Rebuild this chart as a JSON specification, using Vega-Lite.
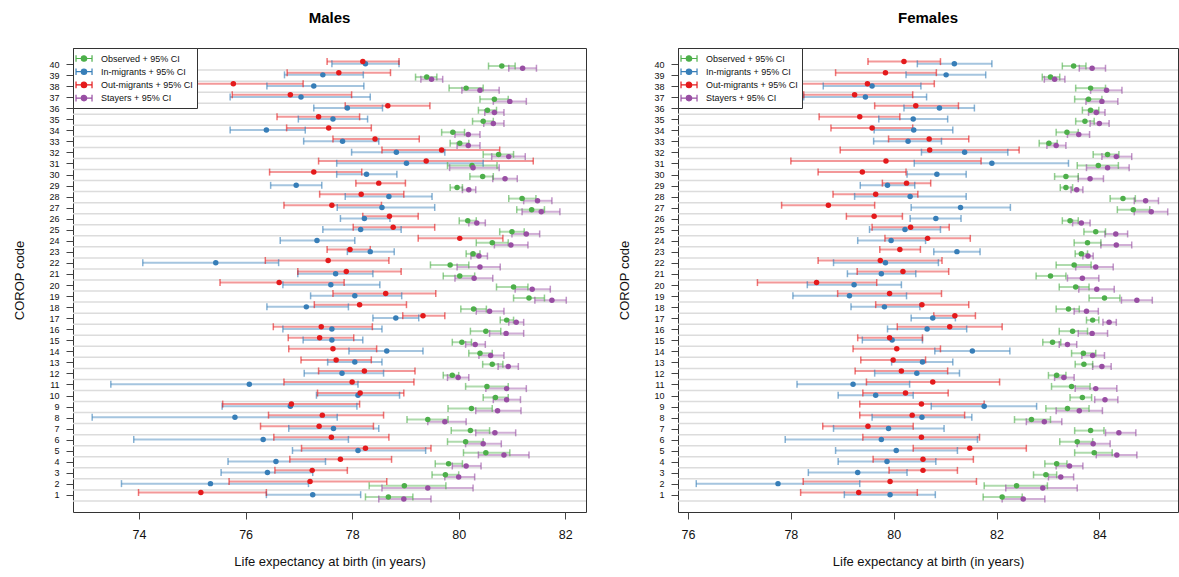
{
"$schema": "https://vega.github.io/schema/vega-lite/v6.json",
"padding": {"left": 12, "top": 10, "right": 0, "bottom": 0},
"bounds": "flush",
"spacing": 92,
"config": {
  "font": "Liberation Sans",
  "view": {"stroke": "#333", "strokeWidth": 1},
  "axis": {"grid": false, "domain": false, "tickColor": "#444", "tickSize": 7, "labelColor": "#111", "titleColor": "#111", "titleFontWeight": "normal", "labelFont": "Liberation Sans", "titleFont": "Liberation Sans"},
  "title": {"font": "Liberation Sans", "fontSize": 15, "fontWeight": "bold", "offset": 22, "color": "#000"}
},
"resolve": {"scale": {"color": "independent", "yOffset": "independent", "x": "independent", "y": "independent"}, "legend": {"color": "independent"}},
"datasets": {"le": [
{"sex":"Males","corop":40,"group":"Observed","lo":80.56,"est":80.81,"hi":81.06},
{"sex":"Males","corop":40,"group":"In-migrants","lo":77.62,"est":78.25,"hi":78.88},
{"sex":"Males","corop":40,"group":"Out-migrants","lo":77.53,"est":78.20,"hi":78.88},
{"sex":"Males","corop":40,"group":"Stayers","lo":80.94,"est":81.20,"hi":81.46},
{"sex":"Males","corop":39,"group":"Observed","lo":79.19,"est":79.40,"hi":79.59},
{"sex":"Males","corop":39,"group":"In-migrants","lo":76.73,"est":77.45,"hi":78.21},
{"sex":"Males","corop":39,"group":"Out-migrants","lo":76.78,"est":77.75,"hi":78.72},
{"sex":"Males","corop":39,"group":"Stayers","lo":79.29,"est":79.49,"hi":79.70},
{"sex":"Males","corop":38,"group":"Observed","lo":79.82,"est":80.14,"hi":80.46},
{"sex":"Males","corop":38,"group":"In-migrants","lo":76.40,"est":77.28,"hi":78.22},
{"sex":"Males","corop":38,"group":"Out-migrants","lo":74.46,"est":75.77,"hi":77.08},
{"sex":"Males","corop":38,"group":"Stayers","lo":80.06,"est":80.40,"hi":80.76},
{"sex":"Males","corop":37,"group":"Observed","lo":80.40,"est":80.67,"hi":80.93},
{"sex":"Males","corop":37,"group":"In-migrants","lo":75.71,"est":77.04,"hi":78.34},
{"sex":"Males","corop":37,"group":"Out-migrants","lo":75.75,"est":76.84,"hi":77.99},
{"sex":"Males","corop":37,"group":"Stayers","lo":80.65,"est":80.96,"hi":81.27},
{"sex":"Males","corop":36,"group":"Observed","lo":80.37,"est":80.54,"hi":80.71},
{"sex":"Males","corop":36,"group":"In-migrants","lo":77.28,"est":77.91,"hi":78.57},
{"sex":"Males","corop":36,"group":"Out-migrants","lo":77.87,"est":78.67,"hi":79.46},
{"sex":"Males","corop":36,"group":"Stayers","lo":80.49,"est":80.67,"hi":80.85},
{"sex":"Males","corop":35,"group":"Observed","lo":80.26,"est":80.46,"hi":80.65},
{"sex":"Males","corop":35,"group":"In-migrants","lo":76.99,"est":77.64,"hi":78.29},
{"sex":"Males","corop":35,"group":"Out-migrants","lo":76.59,"est":77.37,"hi":78.14},
{"sex":"Males","corop":35,"group":"Stayers","lo":80.47,"est":80.65,"hi":80.85},
{"sex":"Males","corop":34,"group":"Observed","lo":79.68,"est":79.89,"hi":80.11},
{"sex":"Males","corop":34,"group":"In-migrants","lo":75.71,"est":76.39,"hi":77.12},
{"sex":"Males","corop":34,"group":"Out-migrants","lo":76.77,"est":77.56,"hi":78.36},
{"sex":"Males","corop":34,"group":"Stayers","lo":79.93,"est":80.18,"hi":80.40},
{"sex":"Males","corop":33,"group":"Observed","lo":79.84,"est":80.02,"hi":80.19},
{"sex":"Males","corop":33,"group":"In-migrants","lo":77.09,"est":77.82,"hi":78.50},
{"sex":"Males","corop":33,"group":"Out-migrants","lo":77.64,"est":78.43,"hi":79.26},
{"sex":"Males","corop":33,"group":"Stayers","lo":79.97,"est":80.18,"hi":80.40},
{"sex":"Males","corop":32,"group":"Observed","lo":80.46,"est":80.75,"hi":81.03},
{"sex":"Males","corop":32,"group":"In-migrants","lo":77.99,"est":78.83,"hi":79.74},
{"sex":"Males","corop":32,"group":"Out-migrants","lo":78.56,"est":79.68,"hi":80.77},
{"sex":"Males","corop":32,"group":"Stayers","lo":80.62,"est":80.94,"hi":81.25},
{"sex":"Males","corop":31,"group":"Observed","lo":79.79,"est":80.25,"hi":80.72},
{"sex":"Males","corop":31,"group":"In-migrants","lo":77.71,"est":79.02,"hi":80.46},
{"sex":"Males","corop":31,"group":"Out-migrants","lo":77.37,"est":79.39,"hi":81.40},
{"sex":"Males","corop":31,"group":"Stayers","lo":79.83,"est":80.27,"hi":80.76},
{"sex":"Males","corop":30,"group":"Observed","lo":80.21,"est":80.45,"hi":80.65},
{"sex":"Males","corop":30,"group":"In-migrants","lo":77.71,"est":78.27,"hi":78.84},
{"sex":"Males","corop":30,"group":"Out-migrants","lo":76.45,"est":77.28,"hi":78.18},
{"sex":"Males","corop":30,"group":"Stayers","lo":80.64,"est":80.87,"hi":81.10},
{"sex":"Males","corop":29,"group":"Observed","lo":79.84,"est":79.97,"hi":80.07},
{"sex":"Males","corop":29,"group":"In-migrants","lo":76.47,"est":76.95,"hi":77.43},
{"sex":"Males","corop":29,"group":"Out-migrants","lo":78.07,"est":78.50,"hi":79.00},
{"sex":"Males","corop":29,"group":"Stayers","lo":80.07,"est":80.19,"hi":80.32},
{"sex":"Males","corop":28,"group":"Observed","lo":80.94,"est":81.19,"hi":81.45},
{"sex":"Males","corop":28,"group":"In-migrants","lo":77.87,"est":78.69,"hi":79.50},
{"sex":"Males","corop":28,"group":"Out-migrants","lo":77.39,"est":78.17,"hi":78.97},
{"sex":"Males","corop":28,"group":"Stayers","lo":81.22,"est":81.48,"hi":81.75},
{"sex":"Males","corop":27,"group":"Observed","lo":81.09,"est":81.37,"hi":81.61},
{"sex":"Males","corop":27,"group":"In-migrants","lo":77.72,"est":78.56,"hi":79.55},
{"sex":"Males","corop":27,"group":"Out-migrants","lo":76.72,"est":77.62,"hi":78.55},
{"sex":"Males","corop":27,"group":"Stayers","lo":81.19,"est":81.55,"hi":81.90},
{"sex":"Males","corop":26,"group":"Observed","lo":80.01,"est":80.17,"hi":80.33},
{"sex":"Males","corop":26,"group":"In-migrants","lo":77.78,"est":78.23,"hi":78.71},
{"sex":"Males","corop":26,"group":"Out-migrants","lo":78.20,"est":78.70,"hi":79.24},
{"sex":"Males","corop":26,"group":"Stayers","lo":80.19,"est":80.34,"hi":80.50},
{"sex":"Males","corop":25,"group":"Observed","lo":80.77,"est":81.00,"hi":81.23},
{"sex":"Males","corop":25,"group":"In-migrants","lo":77.45,"est":78.16,"hi":78.92},
{"sex":"Males","corop":25,"group":"Out-migrants","lo":78.02,"est":78.77,"hi":79.55},
{"sex":"Males","corop":25,"group":"Stayers","lo":81.00,"est":81.27,"hi":81.52},
{"sex":"Males","corop":24,"group":"Observed","lo":80.33,"est":80.63,"hi":80.93},
{"sex":"Males","corop":24,"group":"In-migrants","lo":76.65,"est":77.34,"hi":78.05},
{"sex":"Males","corop":24,"group":"Out-migrants","lo":79.24,"est":80.02,"hi":80.83},
{"sex":"Males","corop":24,"group":"Stayers","lo":80.67,"est":80.98,"hi":81.30},
{"sex":"Males","corop":23,"group":"Observed","lo":80.14,"est":80.27,"hi":80.40},
{"sex":"Males","corop":23,"group":"In-migrants","lo":77.91,"est":78.34,"hi":78.79},
{"sex":"Males","corop":23,"group":"Out-migrants","lo":77.53,"est":77.96,"hi":78.34},
{"sex":"Males","corop":23,"group":"Stayers","lo":80.23,"est":80.38,"hi":80.54},
{"sex":"Males","corop":22,"group":"Observed","lo":79.47,"est":79.84,"hi":80.19},
{"sex":"Males","corop":22,"group":"In-migrants","lo":74.07,"est":75.44,"hi":76.62},
{"sex":"Males","corop":22,"group":"Out-migrants","lo":76.37,"est":77.55,"hi":78.69},
{"sex":"Males","corop":22,"group":"Stayers","lo":79.97,"est":80.40,"hi":80.78},
{"sex":"Males","corop":21,"group":"Observed","lo":79.71,"est":80.02,"hi":80.30},
{"sex":"Males","corop":21,"group":"In-migrants","lo":76.98,"est":77.69,"hi":78.39},
{"sex":"Males","corop":21,"group":"Out-migrants","lo":76.98,"est":77.89,"hi":78.92},
{"sex":"Males","corop":21,"group":"Stayers","lo":79.93,"est":80.29,"hi":80.64},
{"sex":"Males","corop":20,"group":"Observed","lo":80.71,"est":81.03,"hi":81.30},
{"sex":"Males","corop":20,"group":"In-migrants","lo":76.70,"est":77.60,"hi":78.52},
{"sex":"Males","corop":20,"group":"Out-migrants","lo":75.52,"est":76.63,"hi":77.85},
{"sex":"Males","corop":20,"group":"Stayers","lo":81.06,"est":81.38,"hi":81.72},
{"sex":"Males","corop":19,"group":"Observed","lo":81.03,"est":81.32,"hi":81.61},
{"sex":"Males","corop":19,"group":"In-migrants","lo":77.22,"est":78.05,"hi":78.93},
{"sex":"Males","corop":19,"group":"Out-migrants","lo":77.64,"est":78.63,"hi":79.57},
{"sex":"Males","corop":19,"group":"Stayers","lo":81.43,"est":81.75,"hi":82.02},
{"sex":"Males","corop":18,"group":"Observed","lo":80.04,"est":80.28,"hi":80.52},
{"sex":"Males","corop":18,"group":"In-migrants","lo":76.40,"est":77.14,"hi":77.93},
{"sex":"Males","corop":18,"group":"Out-migrants","lo":77.29,"est":78.14,"hi":79.02},
{"sex":"Males","corop":18,"group":"Stayers","lo":80.33,"est":80.58,"hi":80.85},
{"sex":"Males","corop":17,"group":"Observed","lo":80.78,"est":80.90,"hi":81.03},
{"sex":"Males","corop":17,"group":"In-migrants","lo":78.39,"est":78.82,"hi":79.25},
{"sex":"Males","corop":17,"group":"Out-migrants","lo":78.95,"est":79.33,"hi":79.74},
{"sex":"Males","corop":17,"group":"Stayers","lo":80.94,"est":81.08,"hi":81.22},
{"sex":"Males","corop":16,"group":"Observed","lo":80.22,"est":80.51,"hi":80.79},
{"sex":"Males","corop":16,"group":"In-migrants","lo":76.70,"est":77.62,"hi":78.56},
{"sex":"Males","corop":16,"group":"Out-migrants","lo":76.52,"est":77.42,"hi":78.38},
{"sex":"Males","corop":16,"group":"Stayers","lo":80.58,"est":80.89,"hi":81.22},
{"sex":"Males","corop":15,"group":"Observed","lo":79.88,"est":80.06,"hi":80.24},
{"sex":"Males","corop":15,"group":"In-migrants","lo":77.08,"est":77.62,"hi":78.20},
{"sex":"Males","corop":15,"group":"Out-migrants","lo":76.80,"est":77.39,"hi":78.03},
{"sex":"Males","corop":15,"group":"Stayers","lo":80.13,"est":80.31,"hi":80.50},
{"sex":"Males","corop":14,"group":"Observed","lo":80.19,"est":80.40,"hi":80.63},
{"sex":"Males","corop":14,"group":"In-migrants","lo":77.94,"est":78.65,"hi":79.33},
{"sex":"Males","corop":14,"group":"Out-migrants","lo":76.81,"est":77.64,"hi":78.46},
{"sex":"Males","corop":14,"group":"Stayers","lo":80.38,"est":80.60,"hi":80.85},
{"sex":"Males","corop":13,"group":"Observed","lo":80.45,"est":80.63,"hi":80.83},
{"sex":"Males","corop":13,"group":"In-migrants","lo":77.54,"est":78.05,"hi":78.56},
{"sex":"Males","corop":13,"group":"Out-migrants","lo":77.04,"est":77.70,"hi":78.36},
{"sex":"Males","corop":13,"group":"Stayers","lo":80.74,"est":80.93,"hi":81.12},
{"sex":"Males","corop":12,"group":"Observed","lo":79.71,"est":79.88,"hi":80.00},
{"sex":"Males","corop":12,"group":"In-migrants","lo":77.10,"est":77.81,"hi":78.59},
{"sex":"Males","corop":12,"group":"Out-migrants","lo":77.37,"est":78.23,"hi":79.18},
{"sex":"Males","corop":12,"group":"Stayers","lo":79.79,"est":79.99,"hi":80.19},
{"sex":"Males","corop":11,"group":"Observed","lo":80.13,"est":80.53,"hi":80.93},
{"sex":"Males","corop":11,"group":"In-migrants","lo":73.47,"est":76.07,"hi":78.11},
{"sex":"Males","corop":11,"group":"Out-migrants","lo":76.72,"est":78.00,"hi":79.16},
{"sex":"Males","corop":11,"group":"Stayers","lo":80.51,"est":80.90,"hi":81.27},
{"sex":"Males","corop":10,"group":"Observed","lo":80.46,"est":80.69,"hi":80.93},
{"sex":"Males","corop":10,"group":"In-migrants","lo":77.33,"est":78.11,"hi":78.89},
{"sex":"Males","corop":10,"group":"Out-migrants","lo":77.35,"est":78.15,"hi":78.97},
{"sex":"Males","corop":10,"group":"Stayers","lo":80.65,"est":80.90,"hi":81.16},
{"sex":"Males","corop":9,"group":"Observed","lo":79.80,"est":80.24,"hi":80.63},
{"sex":"Males","corop":9,"group":"In-migrants","lo":75.56,"est":76.84,"hi":78.09},
{"sex":"Males","corop":9,"group":"Out-migrants","lo":75.57,"est":76.86,"hi":78.14},
{"sex":"Males","corop":9,"group":"Stayers","lo":80.32,"est":80.73,"hi":81.17},
{"sex":"Males","corop":8,"group":"Observed","lo":79.03,"est":79.42,"hi":79.80},
{"sex":"Males","corop":8,"group":"In-migrants","lo":73.12,"est":75.80,"hi":77.72},
{"sex":"Males","corop":8,"group":"Out-migrants","lo":76.43,"est":77.44,"hi":78.59},
{"sex":"Males","corop":8,"group":"Stayers","lo":79.42,"est":79.74,"hi":80.14},
{"sex":"Males","corop":7,"group":"Observed","lo":79.86,"est":80.22,"hi":80.58},
{"sex":"Males","corop":7,"group":"In-migrants","lo":76.81,"est":77.65,"hi":78.50},
{"sex":"Males","corop":7,"group":"Out-migrants","lo":76.28,"est":77.38,"hi":78.40},
{"sex":"Males","corop":7,"group":"Stayers","lo":80.32,"est":80.68,"hi":81.07},
{"sex":"Males","corop":6,"group":"Observed","lo":79.79,"est":80.13,"hi":80.46},
{"sex":"Males","corop":6,"group":"In-migrants","lo":73.90,"est":76.33,"hi":77.93},
{"sex":"Males","corop":6,"group":"Out-migrants","lo":76.53,"est":77.61,"hi":78.69},
{"sex":"Males","corop":6,"group":"Stayers","lo":80.13,"est":80.46,"hi":80.80},
{"sex":"Males","corop":5,"group":"Observed","lo":80.09,"est":80.51,"hi":80.96},
{"sex":"Males","corop":5,"group":"In-migrants","lo":76.88,"est":78.11,"hi":79.38},
{"sex":"Males","corop":5,"group":"Out-migrants","lo":77.05,"est":78.25,"hi":79.48},
{"sex":"Males","corop":5,"group":"Stayers","lo":80.37,"est":80.85,"hi":81.32},
{"sex":"Males","corop":4,"group":"Observed","lo":79.56,"est":79.81,"hi":80.07},
{"sex":"Males","corop":4,"group":"In-migrants","lo":75.67,"est":76.57,"hi":77.50},
{"sex":"Males","corop":4,"group":"Out-migrants","lo":76.83,"est":77.78,"hi":78.74},
{"sex":"Males","corop":4,"group":"Stayers","lo":79.88,"est":80.14,"hi":80.42},
{"sex":"Males","corop":3,"group":"Observed","lo":79.50,"est":79.75,"hi":80.00},
{"sex":"Males","corop":3,"group":"In-migrants","lo":75.54,"est":76.41,"hi":77.26},
{"sex":"Males","corop":3,"group":"Out-migrants","lo":76.55,"est":77.25,"hi":77.91},
{"sex":"Males","corop":3,"group":"Stayers","lo":79.74,"est":80.00,"hi":80.30},
{"sex":"Males","corop":2,"group":"Observed","lo":78.32,"est":78.98,"hi":79.76},
{"sex":"Males","corop":2,"group":"In-migrants","lo":73.67,"est":75.34,"hi":77.18},
{"sex":"Males","corop":2,"group":"Out-migrants","lo":75.69,"est":77.21,"hi":78.65},
{"sex":"Males","corop":2,"group":"Stayers","lo":78.56,"est":79.42,"hi":80.27},
{"sex":"Males","corop":1,"group":"Observed","lo":78.25,"est":78.68,"hi":79.14},
{"sex":"Males","corop":1,"group":"In-migrants","lo":76.39,"est":77.26,"hi":78.16},
{"sex":"Males","corop":1,"group":"Out-migrants","lo":73.99,"est":75.16,"hi":76.39},
{"sex":"Males","corop":1,"group":"Stayers","lo":78.50,"est":78.97,"hi":79.48},
{"sex":"Females","corop":40,"group":"Observed","lo":83.28,"est":83.50,"hi":83.74},
{"sex":"Females","corop":40,"group":"In-migrants","lo":80.46,"est":81.18,"hi":81.91},
{"sex":"Females","corop":40,"group":"Out-migrants","lo":79.50,"est":80.20,"hi":80.91},
{"sex":"Females","corop":40,"group":"Stayers","lo":83.61,"est":83.86,"hi":84.12},
{"sex":"Females","corop":39,"group":"Observed","lo":82.89,"est":83.05,"hi":83.23},
{"sex":"Females","corop":39,"group":"In-migrants","lo":80.24,"est":81.02,"hi":81.79},
{"sex":"Females","corop":39,"group":"Out-migrants","lo":78.87,"est":79.84,"hi":80.83},
{"sex":"Females","corop":39,"group":"Stayers","lo":82.93,"est":83.13,"hi":83.33},
{"sex":"Females","corop":38,"group":"Observed","lo":83.54,"est":83.83,"hi":84.12},
{"sex":"Females","corop":38,"group":"In-migrants","lo":78.63,"est":79.58,"hi":80.53},
{"sex":"Females","corop":38,"group":"Out-migrants","lo":78.18,"est":79.49,"hi":80.79},
{"sex":"Females","corop":38,"group":"Stayers","lo":83.83,"est":84.14,"hi":84.44},
{"sex":"Females","corop":37,"group":"Observed","lo":83.52,"est":83.79,"hi":84.05},
{"sex":"Females","corop":37,"group":"In-migrants","lo":78.25,"est":79.45,"hi":80.64},
{"sex":"Females","corop":37,"group":"Out-migrants","lo":78.25,"est":79.24,"hi":80.37},
{"sex":"Females","corop":37,"group":"Stayers","lo":83.74,"est":84.05,"hi":84.36},
{"sex":"Females","corop":36,"group":"Observed","lo":83.67,"est":83.83,"hi":83.99},
{"sex":"Females","corop":36,"group":"In-migrants","lo":80.20,"est":80.89,"hi":81.57},
{"sex":"Females","corop":36,"group":"Out-migrants","lo":79.63,"est":80.43,"hi":81.26},
{"sex":"Females","corop":36,"group":"Stayers","lo":83.79,"est":83.94,"hi":84.11},
{"sex":"Females","corop":35,"group":"Observed","lo":83.54,"est":83.72,"hi":83.90},
{"sex":"Females","corop":35,"group":"In-migrants","lo":79.71,"est":80.38,"hi":81.05},
{"sex":"Females","corop":35,"group":"Out-migrants","lo":78.55,"est":79.34,"hi":80.12},
{"sex":"Females","corop":35,"group":"Stayers","lo":83.82,"est":84.00,"hi":84.19},
{"sex":"Females","corop":34,"group":"Observed","lo":83.16,"est":83.37,"hi":83.59},
{"sex":"Females","corop":34,"group":"In-migrants","lo":79.62,"est":80.39,"hi":81.15},
{"sex":"Females","corop":34,"group":"Out-migrants","lo":78.78,"est":79.58,"hi":80.37},
{"sex":"Females","corop":34,"group":"Stayers","lo":83.38,"est":83.60,"hi":83.81},
{"sex":"Females","corop":33,"group":"Observed","lo":82.83,"est":83.02,"hi":83.18},
{"sex":"Females","corop":33,"group":"In-migrants","lo":79.61,"est":80.28,"hi":80.93},
{"sex":"Females","corop":33,"group":"Out-migrants","lo":79.90,"est":80.69,"hi":81.46},
{"sex":"Females","corop":33,"group":"Stayers","lo":82.98,"est":83.16,"hi":83.35},
{"sex":"Females","corop":32,"group":"Observed","lo":83.88,"est":84.16,"hi":84.38},
{"sex":"Females","corop":32,"group":"In-migrants","lo":80.54,"est":81.38,"hi":82.22},
{"sex":"Females","corop":32,"group":"Out-migrants","lo":78.96,"est":80.70,"hi":82.44},
{"sex":"Females","corop":32,"group":"Stayers","lo":84.05,"est":84.33,"hi":84.63},
{"sex":"Females","corop":31,"group":"Observed","lo":83.57,"est":83.98,"hi":84.37},
{"sex":"Females","corop":31,"group":"In-migrants","lo":80.40,"est":81.91,"hi":83.40},
{"sex":"Females","corop":31,"group":"Out-migrants","lo":78.00,"est":79.85,"hi":81.70},
{"sex":"Females","corop":31,"group":"Stayers","lo":83.75,"est":84.16,"hi":84.58},
{"sex":"Females","corop":30,"group":"Observed","lo":83.13,"est":83.35,"hi":83.59},
{"sex":"Females","corop":30,"group":"In-migrants","lo":80.26,"est":80.84,"hi":81.41},
{"sex":"Females","corop":30,"group":"Out-migrants","lo":78.53,"est":79.39,"hi":80.24},
{"sex":"Females","corop":30,"group":"Stayers","lo":83.59,"est":83.82,"hi":84.08},
{"sex":"Females","corop":29,"group":"Observed","lo":83.24,"est":83.35,"hi":83.48},
{"sex":"Females","corop":29,"group":"In-migrants","lo":79.35,"est":79.88,"hi":80.41},
{"sex":"Females","corop":29,"group":"Out-migrants","lo":79.78,"est":80.25,"hi":80.72},
{"sex":"Females","corop":29,"group":"Stayers","lo":83.45,"est":83.56,"hi":83.68},
{"sex":"Females","corop":28,"group":"Observed","lo":84.21,"est":84.46,"hi":84.70},
{"sex":"Females","corop":28,"group":"In-migrants","lo":79.24,"est":80.32,"hi":81.41},
{"sex":"Females","corop":28,"group":"Out-migrants","lo":78.82,"est":79.65,"hi":80.47},
{"sex":"Females","corop":28,"group":"Stayers","lo":84.68,"est":84.90,"hi":85.15},
{"sex":"Females","corop":27,"group":"Observed","lo":84.35,"est":84.66,"hi":84.98},
{"sex":"Females","corop":27,"group":"In-migrants","lo":80.34,"est":81.30,"hi":82.27},
{"sex":"Females","corop":27,"group":"Out-migrants","lo":77.82,"est":78.73,"hi":79.63},
{"sex":"Females","corop":27,"group":"Stayers","lo":84.68,"est":85.01,"hi":85.33},
{"sex":"Females","corop":26,"group":"Observed","lo":83.28,"est":83.43,"hi":83.59},
{"sex":"Females","corop":26,"group":"In-migrants","lo":80.32,"est":80.82,"hi":81.31},
{"sex":"Females","corop":26,"group":"Out-migrants","lo":79.08,"est":79.62,"hi":80.17},
{"sex":"Females","corop":26,"group":"Stayers","lo":83.48,"est":83.65,"hi":83.82},
{"sex":"Females","corop":25,"group":"Observed","lo":83.70,"est":83.93,"hi":84.12},
{"sex":"Females","corop":25,"group":"In-migrants","lo":79.53,"est":80.22,"hi":80.91},
{"sex":"Females","corop":25,"group":"Out-migrants","lo":79.58,"est":80.33,"hi":81.08},
{"sex":"Females","corop":25,"group":"Stayers","lo":84.11,"est":84.32,"hi":84.55},
{"sex":"Females","corop":24,"group":"Observed","lo":83.51,"est":83.77,"hi":84.03},
{"sex":"Females","corop":24,"group":"In-migrants","lo":79.30,"est":79.95,"hi":80.62},
{"sex":"Females","corop":24,"group":"Out-migrants","lo":79.83,"est":80.66,"hi":81.49},
{"sex":"Females","corop":24,"group":"Stayers","lo":84.03,"est":84.33,"hi":84.63},
{"sex":"Females","corop":23,"group":"Observed","lo":83.53,"est":83.65,"hi":83.77},
{"sex":"Females","corop":23,"group":"In-migrants","lo":80.78,"est":81.23,"hi":81.68},
{"sex":"Females","corop":23,"group":"Out-migrants","lo":79.73,"est":80.12,"hi":80.52},
{"sex":"Females","corop":23,"group":"Stayers","lo":83.68,"est":83.78,"hi":83.88},
{"sex":"Females","corop":22,"group":"Observed","lo":83.16,"est":83.51,"hi":83.84},
{"sex":"Females","corop":22,"group":"In-migrants","lo":78.83,"est":79.84,"hi":80.87},
{"sex":"Females","corop":22,"group":"Out-migrants","lo":78.53,"est":79.74,"hi":80.94},
{"sex":"Females","corop":22,"group":"Stayers","lo":83.54,"est":83.93,"hi":84.27},
{"sex":"Females","corop":21,"group":"Observed","lo":82.77,"est":83.05,"hi":83.35},
{"sex":"Females","corop":21,"group":"In-migrants","lo":79.10,"est":79.76,"hi":80.43},
{"sex":"Females","corop":21,"group":"Out-migrants","lo":79.29,"est":80.18,"hi":81.07},
{"sex":"Females","corop":21,"group":"Stayers","lo":83.38,"est":83.67,"hi":83.99},
{"sex":"Females","corop":20,"group":"Observed","lo":83.22,"est":83.54,"hi":83.80},
{"sex":"Females","corop":20,"group":"In-migrants","lo":78.32,"est":79.23,"hi":80.15},
{"sex":"Females","corop":20,"group":"Out-migrants","lo":77.35,"est":78.50,"hi":79.67},
{"sex":"Females","corop":20,"group":"Stayers","lo":83.60,"est":83.95,"hi":84.29},
{"sex":"Females","corop":19,"group":"Observed","lo":83.80,"est":84.10,"hi":84.40},
{"sex":"Females","corop":19,"group":"In-migrants","lo":78.04,"est":79.14,"hi":80.25},
{"sex":"Females","corop":19,"group":"Out-migrants","lo":78.91,"est":79.92,"hi":80.93},
{"sex":"Females","corop":19,"group":"Stayers","lo":84.43,"est":84.73,"hi":85.03},
{"sex":"Females","corop":18,"group":"Observed","lo":83.16,"est":83.40,"hi":83.61},
{"sex":"Females","corop":18,"group":"In-migrants","lo":79.17,"est":79.82,"hi":80.51},
{"sex":"Females","corop":18,"group":"Out-migrants","lo":79.65,"est":80.55,"hi":81.46},
{"sex":"Females","corop":18,"group":"Stayers","lo":83.51,"est":83.75,"hi":83.98},
{"sex":"Females","corop":17,"group":"Observed","lo":83.75,"est":83.87,"hi":83.99},
{"sex":"Females","corop":17,"group":"In-migrants","lo":80.34,"est":80.76,"hi":81.20},
{"sex":"Females","corop":17,"group":"Out-migrants","lo":80.78,"est":81.19,"hi":81.59},
{"sex":"Females","corop":17,"group":"Stayers","lo":84.07,"est":84.19,"hi":84.33},
{"sex":"Females","corop":16,"group":"Observed","lo":83.22,"est":83.48,"hi":83.77},
{"sex":"Females","corop":16,"group":"In-migrants","lo":79.88,"est":80.65,"hi":81.42},
{"sex":"Females","corop":16,"group":"Out-migrants","lo":80.07,"est":81.09,"hi":82.11},
{"sex":"Females","corop":16,"group":"Stayers","lo":83.59,"est":83.86,"hi":84.16},
{"sex":"Females","corop":15,"group":"Observed","lo":82.90,"est":83.09,"hi":83.25},
{"sex":"Females","corop":15,"group":"In-migrants","lo":79.39,"est":79.97,"hi":80.56},
{"sex":"Females","corop":15,"group":"Out-migrants","lo":79.30,"est":79.92,"hi":80.56},
{"sex":"Females","corop":15,"group":"Stayers","lo":83.22,"est":83.38,"hi":83.56},
{"sex":"Females","corop":14,"group":"Observed","lo":83.46,"est":83.69,"hi":83.93},
{"sex":"Females","corop":14,"group":"In-migrants","lo":80.80,"est":81.53,"hi":82.26},
{"sex":"Females","corop":14,"group":"Out-migrants","lo":79.21,"est":80.06,"hi":80.91},
{"sex":"Females","corop":14,"group":"Stayers","lo":83.66,"est":83.87,"hi":84.10},
{"sex":"Females","corop":13,"group":"Observed","lo":83.53,"est":83.70,"hi":83.87},
{"sex":"Females","corop":13,"group":"In-migrants","lo":79.96,"est":80.56,"hi":81.15},
{"sex":"Females","corop":13,"group":"Out-migrants","lo":79.36,"est":79.99,"hi":80.62},
{"sex":"Females","corop":13,"group":"Stayers","lo":83.87,"est":84.05,"hi":84.23},
{"sex":"Females","corop":12,"group":"Observed","lo":83.01,"est":83.17,"hi":83.35},
{"sex":"Females","corop":12,"group":"In-migrants","lo":79.63,"est":80.45,"hi":81.28},
{"sex":"Females","corop":12,"group":"Out-migrants","lo":79.25,"est":80.15,"hi":81.05},
{"sex":"Females","corop":12,"group":"Stayers","lo":83.13,"est":83.31,"hi":83.51},
{"sex":"Females","corop":11,"group":"Observed","lo":83.07,"est":83.46,"hi":83.82},
{"sex":"Females","corop":11,"group":"In-migrants","lo":78.12,"est":79.21,"hi":80.31},
{"sex":"Females","corop":11,"group":"Out-migrants","lo":79.47,"est":80.76,"hi":82.06},
{"sex":"Females","corop":11,"group":"Stayers","lo":83.53,"est":83.93,"hi":84.34},
{"sex":"Females","corop":10,"group":"Observed","lo":83.43,"est":83.67,"hi":83.85},
{"sex":"Females","corop":10,"group":"In-migrants","lo":78.92,"est":79.65,"hi":80.38},
{"sex":"Females","corop":10,"group":"Out-migrants","lo":79.40,"est":80.23,"hi":81.06},
{"sex":"Females","corop":10,"group":"Stayers","lo":83.91,"est":84.11,"hi":84.36},
{"sex":"Females","corop":9,"group":"Observed","lo":82.96,"est":83.38,"hi":83.80},
{"sex":"Females","corop":9,"group":"In-migrants","lo":80.73,"est":81.76,"hi":82.78},
{"sex":"Females","corop":9,"group":"Out-migrants","lo":79.34,"est":80.54,"hi":81.76},
{"sex":"Females","corop":9,"group":"Stayers","lo":83.16,"est":83.61,"hi":84.06},
{"sex":"Females","corop":8,"group":"Observed","lo":82.35,"est":82.68,"hi":83.05},
{"sex":"Females","corop":8,"group":"In-migrants","lo":79.58,"est":80.55,"hi":81.52},
{"sex":"Females","corop":8,"group":"Out-migrants","lo":79.34,"est":80.36,"hi":81.38},
{"sex":"Females","corop":8,"group":"Stayers","lo":82.58,"est":82.93,"hi":83.27},
{"sex":"Females","corop":7,"group":"Observed","lo":83.52,"est":83.83,"hi":84.09},
{"sex":"Females","corop":7,"group":"In-migrants","lo":78.83,"est":79.90,"hi":80.98},
{"sex":"Females","corop":7,"group":"Out-migrants","lo":78.62,"est":79.50,"hi":80.38},
{"sex":"Females","corop":7,"group":"Stayers","lo":84.12,"est":84.38,"hi":84.71},
{"sex":"Females","corop":6,"group":"Observed","lo":83.23,"est":83.57,"hi":83.87},
{"sex":"Females","corop":6,"group":"In-migrants","lo":77.89,"est":79.76,"hi":81.63},
{"sex":"Females","corop":6,"group":"Out-migrants","lo":79.40,"est":80.54,"hi":81.67},
{"sex":"Females","corop":6,"group":"Stayers","lo":83.57,"est":83.88,"hi":84.21},
{"sex":"Females","corop":5,"group":"Observed","lo":83.52,"est":83.90,"hi":84.25},
{"sex":"Females","corop":5,"group":"In-migrants","lo":78.87,"est":80.05,"hi":81.24},
{"sex":"Females","corop":5,"group":"Out-migrants","lo":80.38,"est":81.48,"hi":82.58},
{"sex":"Females","corop":5,"group":"Stayers","lo":83.94,"est":84.34,"hi":84.73},
{"sex":"Females","corop":4,"group":"Observed","lo":82.94,"est":83.17,"hi":83.37},
{"sex":"Females","corop":4,"group":"In-migrants","lo":78.92,"est":79.87,"hi":80.82},
{"sex":"Females","corop":4,"group":"Out-migrants","lo":79.60,"est":80.57,"hi":81.55},
{"sex":"Females","corop":4,"group":"Stayers","lo":83.16,"est":83.42,"hi":83.68},
{"sex":"Females","corop":3,"group":"Observed","lo":82.72,"est":82.96,"hi":83.17},
{"sex":"Females","corop":3,"group":"In-migrants","lo":78.34,"est":79.30,"hi":80.26},
{"sex":"Females","corop":3,"group":"Out-migrants","lo":79.91,"est":80.57,"hi":81.24},
{"sex":"Females","corop":3,"group":"Stayers","lo":83.01,"est":83.25,"hi":83.50},
{"sex":"Females","corop":2,"group":"Observed","lo":81.76,"est":82.39,"hi":82.99},
{"sex":"Females","corop":2,"group":"In-migrants","lo":76.16,"est":77.75,"hi":79.34},
{"sex":"Females","corop":2,"group":"Out-migrants","lo":78.24,"est":79.93,"hi":81.61},
{"sex":"Females","corop":2,"group":"Stayers","lo":82.18,"est":82.90,"hi":83.57},
{"sex":"Females","corop":1,"group":"Observed","lo":81.74,"est":82.11,"hi":82.50},
{"sex":"Females","corop":1,"group":"In-migrants","lo":79.04,"est":79.93,"hi":80.81},
{"sex":"Females","corop":1,"group":"Out-migrants","lo":78.19,"est":79.32,"hi":80.46},
{"sex":"Females","corop":1,"group":"Stayers","lo":82.11,"est":82.52,"hi":82.94}
]},
"hconcat": [
{
  "name": "males",
  "width": 513, "height": 464,
  "title": {"text": "Males"},
  "data": {"name": "le"},
  "transform": [{"filter": "datum.sex === 'Males'"}],
  "layer": [
    {
      "transform": [{"filter": "datum.group === 'Observed'"}],
      "mark": {"type": "rule", "color": "#dcdcdc", "strokeWidth": 1.5},
      "encoding": {"y": {"field": "corop", "type": "ordinal", "bandPosition": 1,
        "scale": {"type": "band", "domain": [40,39,38,37,36,35,34,33,32,31,30,29,28,27,26,25,24,23,22,21,20,19,18,17,16,15,14,13,12,11,10,9,8,7,6,5,4,3,2,1], "paddingInner": 0, "paddingOuter": 1.06},
        "axis": {"title": "COROP code", "titleFontSize": 13, "labelFontSize": 9, "labelPadding": 7, "titlePadding": 23, "minExtent": 24, "maxExtent": 24, "labelOverlap": false, "bandPosition": 0.5}}}
    },
    {
      "encoding": {
        "y": {"field": "corop", "type": "ordinal"},
        "yOffset": {"field": "group", "type": "nominal", "scale": {"type": "point", "domain": ["Out-migrants", "In-migrants", "Observed", "Stayers"], "padding": 2.25, "align": 0.58}},
        "color": {"field": "group", "type": "nominal",
          "scale": {"domain": ["Observed", "In-migrants", "Out-migrants", "Stayers"], "range": ["#4daf4a", "#377eb8", "#e41a1c", "#984ea3"]},
          "legend": {"title": null, "orient": "top-left", "offset": 0, "labelExpr": "datum.label + ' + 95% CI'",
            "symbolType": "M-1.36,0L1.55,0M-1.36,-0.6L-1.36,0.6M1.55,-0.6L1.55,0.6M0.58,0A0.49,0.49 0 1,1 -0.4,0A0.49,0.49 0 1,1 0.58,0Z",
            "symbolSize": 121, "symbolStrokeWidth": 1.2, "symbolOpacity": 1, "labelFontSize": 9, "labelOffset": 11, "padding": 4, "rowPadding": 0.2,
            "strokeColor": "#333", "fillColor": "white", "labelColor": "#111",
            "encode": {"symbols": {"update": {
              "stroke": {"signal": "datum.value === 'Observed' ? '#4daf4a' : datum.value === 'In-migrants' ? '#377eb8' : datum.value === 'Out-migrants' ? '#e41a1c' : '#984ea3'"},
              "fill": {"signal": "datum.value === 'Observed' ? '#4daf4a' : datum.value === 'In-migrants' ? '#377eb8' : datum.value === 'Out-migrants' ? '#e41a1c' : '#984ea3'"}}}}}
        }
      },
      "layer": [
        {"mark": {"type": "rule", "strokeWidth": 2, "opacity": 0.45},
         "encoding": {"x": {"field": "lo", "type": "quantitative", "scale": {"domain": [72.76, 82.39], "nice": false, "zero": false},
           "axis": {"values": [74, 76, 78, 80, 82], "title": "Life expectancy at birth (in years)", "titleFontSize": 13, "labelFontSize": 12.5, "labelPadding": 9, "titlePadding": 15}},
           "x2": {"field": "hi"}}},
        {"mark": {"type": "tick", "size": 7, "thickness": 1.5, "opacity": 0.6}, "encoding": {"x": {"field": "lo", "type": "quantitative"}}},
        {"mark": {"type": "tick", "size": 7, "thickness": 1.5, "opacity": 0.6}, "encoding": {"x": {"field": "hi", "type": "quantitative"}}},
        {"mark": {"type": "point", "filled": true, "size": 30, "opacity": 1}, "encoding": {"x": {"field": "est", "type": "quantitative"}}}
      ]
    }
  ]
},
{
  "name": "females",
  "width": 500, "height": 464,
  "title": {"text": "Females"},
  "data": {"name": "le"},
  "transform": [{"filter": "datum.sex === 'Females'"}],
  "layer": [
    {
      "transform": [{"filter": "datum.group === 'Observed'"}],
      "mark": {"type": "rule", "color": "#dcdcdc", "strokeWidth": 1.5},
      "encoding": {"y": {"field": "corop", "type": "ordinal", "bandPosition": 1,
        "scale": {"type": "band", "domain": [40,39,38,37,36,35,34,33,32,31,30,29,28,27,26,25,24,23,22,21,20,19,18,17,16,15,14,13,12,11,10,9,8,7,6,5,4,3,2,1], "paddingInner": 0, "paddingOuter": 1.06},
        "axis": {"title": "COROP code", "titleFontSize": 13, "labelFontSize": 9, "labelPadding": 7, "titlePadding": 23, "minExtent": 24, "maxExtent": 24, "labelOverlap": false, "bandPosition": 0.5}}}
    },
    {
      "encoding": {
        "y": {"field": "corop", "type": "ordinal"},
        "yOffset": {"field": "group", "type": "nominal", "scale": {"type": "point", "domain": ["Out-migrants", "In-migrants", "Observed", "Stayers"], "padding": 2.25, "align": 0.58}},
        "color": {"field": "group", "type": "nominal",
          "scale": {"domain": ["Observed", "In-migrants", "Out-migrants", "Stayers"], "range": ["#4daf4a", "#377eb8", "#e41a1c", "#984ea3"]},
          "legend": {"title": null, "orient": "top-left", "offset": 0, "labelExpr": "datum.label + ' + 95% CI'",
            "symbolType": "M-1.36,0L1.55,0M-1.36,-0.6L-1.36,0.6M1.55,-0.6L1.55,0.6M0.58,0A0.49,0.49 0 1,1 -0.4,0A0.49,0.49 0 1,1 0.58,0Z",
            "symbolSize": 121, "symbolStrokeWidth": 1.2, "symbolOpacity": 1, "labelFontSize": 9, "labelOffset": 11, "padding": 4, "rowPadding": 0.2,
            "strokeColor": "#333", "fillColor": "white", "labelColor": "#111",
            "encode": {"symbols": {"update": {
              "stroke": {"signal": "datum.value === 'Observed' ? '#4daf4a' : datum.value === 'In-migrants' ? '#377eb8' : datum.value === 'Out-migrants' ? '#e41a1c' : '#984ea3'"},
              "fill": {"signal": "datum.value === 'Observed' ? '#4daf4a' : datum.value === 'In-migrants' ? '#377eb8' : datum.value === 'Out-migrants' ? '#e41a1c' : '#984ea3'"}}}}}
        }
      },
      "layer": [
        {"mark": {"type": "rule", "strokeWidth": 2, "opacity": 0.45},
         "encoding": {"x": {"field": "lo", "type": "quantitative", "scale": {"domain": [75.805, 85.53], "nice": false, "zero": false},
           "axis": {"values": [76, 78, 80, 82, 84], "title": "Life expectancy at birth (in years)", "titleFontSize": 13, "labelFontSize": 12.5, "labelPadding": 9, "titlePadding": 15}},
           "x2": {"field": "hi"}}},
        {"mark": {"type": "tick", "size": 7, "thickness": 1.5, "opacity": 0.6}, "encoding": {"x": {"field": "lo", "type": "quantitative"}}},
        {"mark": {"type": "tick", "size": 7, "thickness": 1.5, "opacity": 0.6}, "encoding": {"x": {"field": "hi", "type": "quantitative"}}},
        {"mark": {"type": "point", "filled": true, "size": 30, "opacity": 1}, "encoding": {"x": {"field": "est", "type": "quantitative"}}}
      ]
    }
  ]
}
]
}
